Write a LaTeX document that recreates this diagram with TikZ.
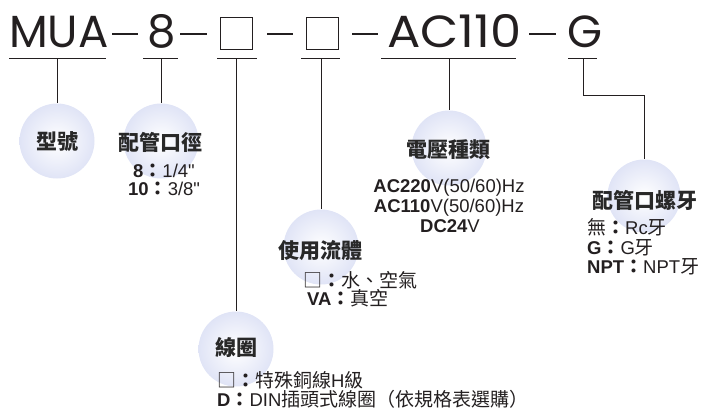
\documentclass[tikz,border=0pt]{standalone}
\usepackage{fontspec}
\setmainfont{Liberation Sans}[Ligatures=TeXOff]
\newfontfamily\titlefont{Poppins}
\newfontfamily\cjk{Noto Sans CJK TC}
\newcommand\zhtxt[1]{{\cjk\fontsize{19}{20}\selectfont #1}}
\newcommand\zhcol{{\cjk\bfseries\fontsize{19}{20}\selectfont ：}}
\definecolor{ink}{RGB}{35,31,32}
\definecolor{head}{RGB}{40,40,40}
\definecolor{ballout}{RGB}{224,228,246}
\begin{document}
\begin{tikzpicture}[x=1pt,y=-1pt,
  ttl/.style={font=\titlefont\fontsize{45}{45}\selectfont, text=ink, inner sep=0, anchor=base west},
  phbox/.style={draw=ink, line width=1.3pt, minimum size=32pt, inner sep=0},
  sep/.style={draw=ink, line width=2pt},
  ball/.style={circle, minimum size=75pt, inner sep=0, draw=none, inner color=white, outer color=ballout},
  hd/.style={font=\cjk\bfseries\fontsize{21}{21}\selectfont, text=head, inner sep=0},
  ds/.style={font=\fontsize{18.5}{20}\selectfont, text=ink, inner sep=0, anchor=base west},
  dsc/.style={ds, anchor=base},
  ln/.style={draw=ink, line width=0.9pt}]
\useasboundingbox (0,0) rectangle (703,410);
% title
\node[ttl] (tMUA) at (9,47) {MUA};
\node[ttl] (t8) at (147,47) {8};
\node[phbox] (tB1) at (236.5,33.5) {};
\node[phbox] (tB2) at (322.5,33.5) {};
\node[ttl] (tAC) at (387,47) {\scalebox{1.1}[1]{AC110}};
\node[ttl] (tG) at (567,47) {G};
\draw[sep] (112,34) -- (138,34);
\draw[sep] (180,34) -- (207,34);
\draw[sep] (267,34) -- (293,34);
\draw[sep] (352,34) -- (378,34);
\draw[sep] (529,34) -- (556,34);
% underlines
\draw[ln] (9,58) -- (106,58);
\draw[ln] (143,58) -- (178,58);
\draw[ln] (217,58) -- (257,58);
\draw[ln] (301,58) -- (340,58);
\draw[ln] (381,58) -- (516,58);
\draw[ln] (568,58) -- (597,58);
\coordinate (uMUA) at (57,58);
\coordinate (u8) at (161,58);
\coordinate (uB1) at (236,58);
\coordinate (uB2) at (321,58);
\coordinate (uAC) at (449,58);
\coordinate (uG) at (583,58);
\coordinate (kG) at (583,95);
% balls
\node[ball] (cModel) at (57,141) {};
\node[ball] (cPort) at (161,141) {};
\node[ball] (cVolt) at (449,148) {};
\node[ball] (cFluid) at (321,247) {};
\node[ball] (cCoil) at (236,349) {};
\node[ball, minimum size=73pt] (cThread) at (644,196) {};
% connectors
\draw[ln] (uMUA) -- (cModel.north);
\draw[ln] (u8) -- (cPort.north);
\draw[ln] (uB1) -- (cCoil.north);
\draw[ln] (uB2) -- (cFluid.north);
\draw[ln] (uAC) -- (cVolt.north);
\draw[ln] (uG) -- (kG) -| (cThread.north);
% headings
\node[hd] (hModel) at (57,142) {型號};
\node[hd] (hPort) at (160,142) {配管口徑};
\node[hd] (hVolt) at (448,150) {電壓種類};
\node[hd] (hFluid) at (320,250) {使用流體};
\node[hd] (hCoil) at (236,348) {線圈};
\node[hd] (hThread) at (645,200) {配管口螺牙};
% descriptions
\node[ds] (p1) at (133,177) {\textbf{8}\zhcol 1/4"};
\node[ds] (p2) at (128,195) {\textbf{10}\zhcol 3/8"};
\node[dsc] (v1) at (449,192) {\textbf{AC220}V(50/60)Hz};
\node[dsc] (v2) at (449,212) {\textbf{AC110}V(50/60)Hz};
\node[dsc] (v3) at (450,232) {\textbf{DC24}V};
\node[ds] (f1) at (303,287) {\zhtxt{□}\zhcol\zhtxt{水、空氣}};
\node[ds] (f2) at (307,305) {\textbf{VA}\zhcol\zhtxt{真空}};
\node[ds] (k1) at (217,387) {\zhtxt{□}\zhcol\zhtxt{特殊銅線}H\zhtxt{級}};
\node[ds] (k2) at (217,406) {\textbf{D}\zhcol DIN\zhtxt{插頭式線圈（依規格表選購）}};
\node[ds] (g1) at (587,234) {\zhtxt{無}\zhcol Rc\zhtxt{牙}};
\node[ds] (g2) at (587,254) {\textbf{G}\zhcol G\zhtxt{牙}};
\node[ds] (g3) at (587,273) {\textbf{NPT}\zhcol NPT\zhtxt{牙}};
\end{tikzpicture}
\end{document}
